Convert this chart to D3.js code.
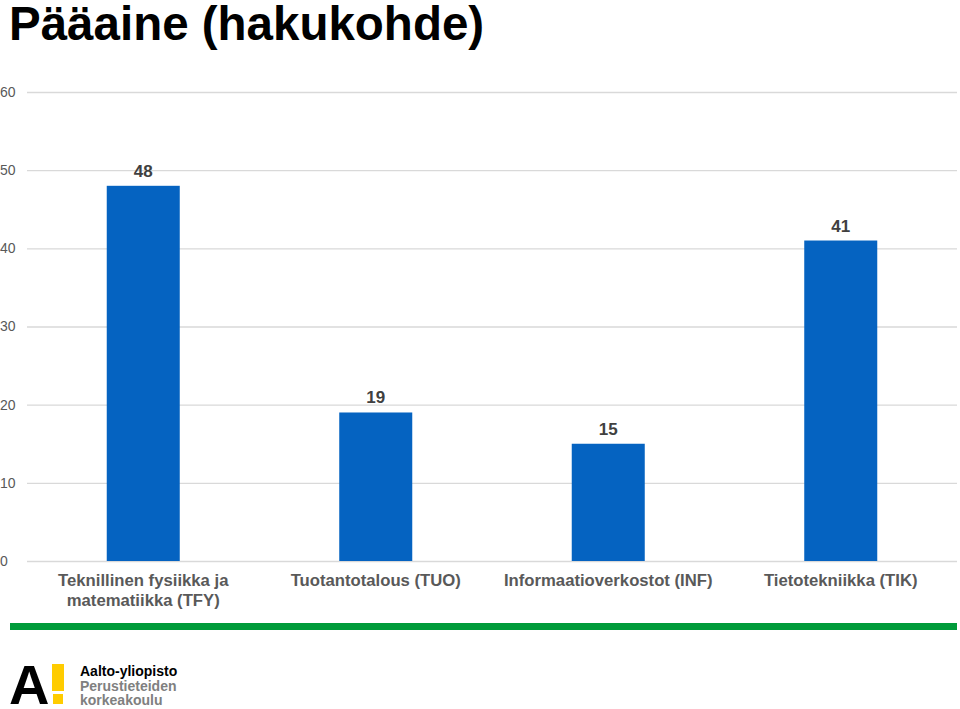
<!DOCTYPE html>
<html><head><meta charset="utf-8">
<script src="https://cdn.jsdelivr.net/npm/d3@7/dist/d3.min.js"></script>
<style>body{margin:0;background:#fff}svg{display:block}</style>
</head><body>
<script>
const categories = [["Teknillinen fysiikka ja","matematiikka (TFY)"],["Tuotantotalous (TUO)"],["Informaatioverkostot (INF)"],["Tietotekniikka (TIK)"]];
const values = [48, 19, 15, 41];
const yTicks = [0, 10, 20, 30, 40, 50, 60];
const title = "Pääaine (hakukohde)";

const W = 960, H = 709;
const svg = d3.select("body").append("svg").attr("width", W).attr("height", H)
  .style("font-family", "'Liberation Sans', Arial, sans-serif");

const x = d3.scaleBand().domain(d3.range(values.length)).range([27, 957]).paddingInner(0.686).paddingOuter(0.343);
const y = d3.scaleLinear().domain([0, 60]).range([561, 92]);

svg.append("text").attr("x", 9).attr("y", 40).attr("font-size", 47.5).attr("font-weight", "bold")
  .attr("fill", "#000").text(title);

const yAxis = svg.append("g").attr("transform", "translate(27,0)")
  .call(d3.axisLeft(y).tickValues(yTicks).tickSize(-930).tickFormat(d3.format("d")));
yAxis.select(".domain").remove();
yAxis.selectAll(".tick line").attr("stroke", "#d9d9d9").attr("stroke-width", 1.3);
yAxis.selectAll(".tick text").attr("fill", "#595959").attr("font-size", 14)
  .attr("x", -27).attr("text-anchor", "start");

svg.selectAll("rect.bar").data(values).join("rect").attr("class", "bar")
  .attr("x", (d, i) => x(i)).attr("width", x.bandwidth())
  .attr("y", d => y(d)).attr("height", d => y(0) - y(d)).attr("fill", "#0563c1");

svg.selectAll("text.val").data(values).join("text").attr("class", "val")
  .attr("x", (d, i) => x(i) + x.bandwidth() / 2).attr("y", d => y(d) - 9)
  .attr("text-anchor", "middle").attr("font-size", 17).attr("font-weight", "bold").attr("fill", "#404040")
  .text(d => d);

const cat = svg.selectAll("text.cat").data(categories).join("text").attr("class", "cat")
  .attr("x", (d, i) => x(i) + x.bandwidth() / 2).attr("y", 586)
  .attr("text-anchor", "middle").attr("font-size", 16.7).attr("font-weight", "bold").attr("fill", "#595959");
cat.selectAll("tspan").data(d => d).join("tspan")
  .attr("x", function() { return this.parentNode.getAttribute("x"); })
  .attr("dy", (d, i) => i === 0 ? 0 : 20).text(d => d);

svg.append("rect").attr("x", 10).attr("y", 623).attr("width", 947).attr("height", 7).attr("fill", "#009b3a");

// logo
const logo = svg.append("g");
logo.append("text").attr("x", 9).attr("y", 704).attr("font-size", 56).attr("font-weight", "bold")
  .attr("fill", "#000").text("A");
logo.append("rect").attr("x", 52).attr("y", 664).attr("width", 12).attr("height", 27).attr("fill", "#ffcc00");
logo.append("rect").attr("x", 53).attr("y", 694).attr("width", 10).attr("height", 10).attr("fill", "#ffcc00");
logo.append("text").attr("x", 80).attr("y", 676).attr("font-size", 14).attr("font-weight", "bold")
  .attr("fill", "#000").text("Aalto-yliopisto");
logo.append("text").attr("x", 80).attr("y", 691).attr("font-size", 14).attr("font-weight", "bold")
  .attr("fill", "#808080").text("Perustieteiden");
logo.append("text").attr("x", 80).attr("y", 705).attr("font-size", 14).attr("font-weight", "bold")
  .attr("fill", "#808080").text("korkeakoulu");
</script>
</body></html>
